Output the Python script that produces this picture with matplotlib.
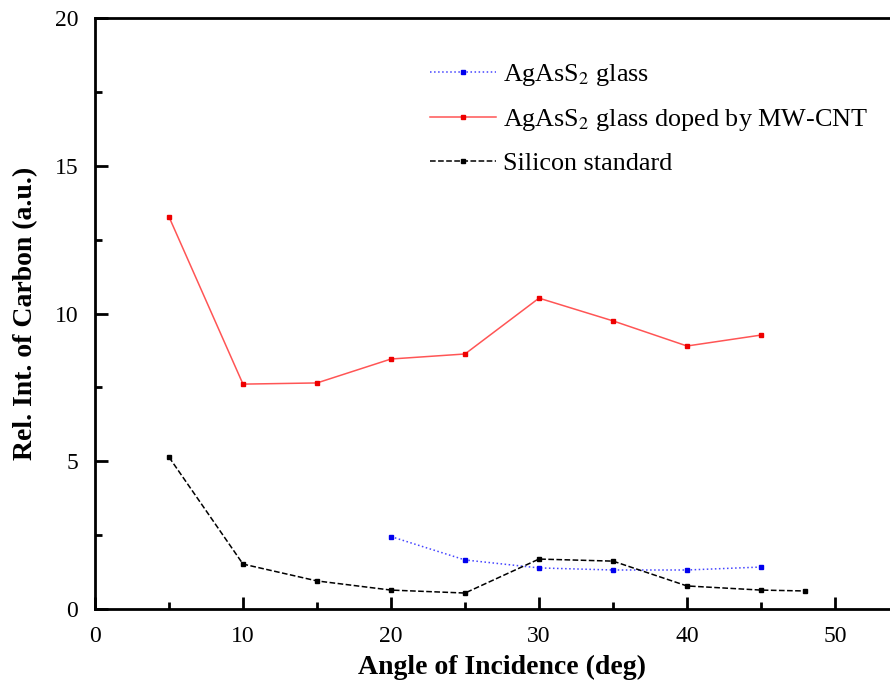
import matplotlib
matplotlib.use('Agg')
import matplotlib.pyplot as plt
from matplotlib.ticker import MultipleLocator

plt.rcParams['font.family'] = 'Liberation Serif'
plt.rcParams['mathtext.fontset'] = 'stix'

# === DATA ===
angle_glass = [20, 25, 30, 35, 40, 45]
glass = [2.45, 1.66, 1.39, 1.32, 1.32, 1.42]

angle_doped = [5, 10, 15, 20, 25, 30, 35, 40, 45]
doped = [13.27, 7.61, 7.65, 8.46, 8.63, 10.52, 9.75, 8.90, 9.27]

angle_si = [5, 10, 15, 20, 25, 30, 35, 40, 45, 48]
silicon = [5.14, 1.52, 0.95, 0.64, 0.54, 1.69, 1.62, 0.78, 0.64, 0.61]

labels = [r'AgAsS$_2$ glass',
          r'AgAsS$_2$ glass doped by MW-CNT',
          'Silicon standard']

# === PLOT ===
fig = plt.figure(figsize=(8.9, 6.89), dpi=100)
ax = fig.add_axes([95 / 890, 1 - 609 / 689, (909 - 95) / 890, (609 - 18) / 689])

ax.plot(angle_glass, glass, color='#4444ff', linestyle=':', lw=1.1,
        marker='s', ms=3.5, mfc='#0000ee', mec='#0000ee', label=labels[0])
ax.plot(angle_doped, doped, color='#ff5555', linestyle='-', lw=1.1,
        marker='s', ms=3.5, mfc='#ee0000', mec='#ee0000', label=labels[1])
ax.plot(angle_si, silicon, color='black', linestyle='--', lw=1.1,
        marker='s', ms=3.5, mfc='black', mec='black', label=labels[2])

ax.set_xlim(0, 55)
ax.set_ylim(0, 20)
ax.xaxis.set_major_locator(MultipleLocator(10))
ax.xaxis.set_minor_locator(MultipleLocator(5))
ax.yaxis.set_major_locator(MultipleLocator(5))
ax.yaxis.set_minor_locator(MultipleLocator(2.5))
ax.tick_params(which='major', direction='in', length=9, width=2, labelsize=17, pad=12)
ax.tick_params(which='minor', direction='in', length=5, width=2)
ax.tick_params(top=False, right=False, which='both')
for s in ax.spines.values():
    s.set_linewidth(2)

ax.set_xlabel('Angle of Incidence (deg)', fontsize=20, fontweight='bold', labelpad=6)
ax.set_ylabel('Rel. Int. of Carbon (a.u.)', fontsize=20, fontweight='bold', labelpad=12)

ax.legend(loc='upper left', bbox_to_anchor=(0.383, 0.965), frameon=False,
          fontsize=18.8, numpoints=1, handlelength=2.5, handletextpad=0.3,
          labelspacing=0.72)

fig.savefig('out.png', dpi=100)
